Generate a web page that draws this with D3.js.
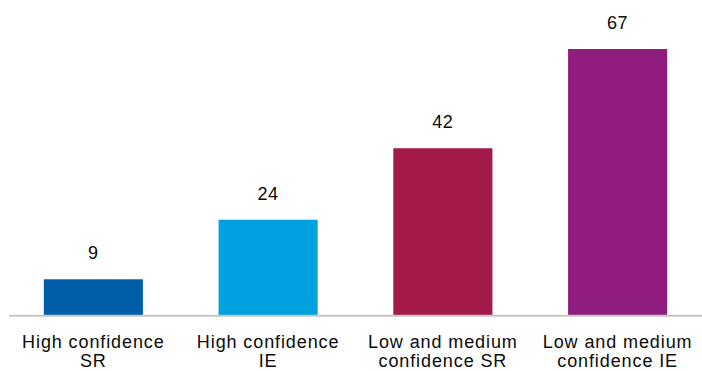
<!DOCTYPE html>
<html>
<head>
<meta charset="utf-8">
<script src="https://cdn.jsdelivr.net/npm/d3@7/dist/d3.min.js"></script>
<style>
  html, body { margin: 0; padding: 0; background: #fff; }
  svg { display: block; }
  text { font-family: "Liberation Sans", Arial, Helvetica, sans-serif; fill: #0a0a0a; }
</style>
</head>
<body>
<script>
// Categories (two-line labels) and their values
const categories = ["High confidence SR", "High confidence IE", "Low and medium confidence SR", "Low and medium confidence IE"];
const labelLines = [["High confidence", "SR"], ["High confidence", "IE"], ["Low and medium", "confidence SR"], ["Low and medium", "confidence IE"]];
const values = [9, 24, 42, 67];
const colors = ["#005EA8", "#00A1DF", "#A3194A", "#8E1D7F"];

const width = 702, height = 371;
const baseline = 315;

const svg = d3.select("body").append("svg")
  .attr("width", width)
  .attr("height", height);

const x = d3.scaleBand()
  .domain(categories)
  .range([6, 705])
  .paddingInner(0.433)
  .paddingOuter(0.2165);

const y = d3.scaleLinear()
  .domain([0, 67])
  .range([baseline, 49]);

// Bars
svg.append("g")
  .selectAll("rect")
  .data(categories)
  .join("rect")
  .attr("x", d => x(d))
  .attr("width", x.bandwidth())
  .attr("y", (d, i) => y(values[i]))
  .attr("height", (d, i) => y(0) - y(values[i]))
  .attr("fill", (d, i) => colors[i]);

// Baseline
svg.append("line")
  .attr("x1", 9).attr("x2", 702)
  .attr("y1", y(0) + 0.7).attr("y2", y(0) + 0.7)
  .attr("stroke", "#c6c6c6")
  .attr("stroke-width", 2);

// Value labels above bars
svg.append("g")
  .selectAll("text")
  .data(categories)
  .join("text")
  .attr("x", d => x(d) + x.bandwidth() / 2)
  .attr("y", (d, i) => y(values[i]) - 20)
  .attr("text-anchor", "middle")
  .style("font-size", "18px")
  .style("letter-spacing", "0.6px")
  .text((d, i) => values[i]);

// Category labels below the axis
const cat = svg.append("g")
  .selectAll("text")
  .data(categories)
  .join("text")
  .attr("x", d => x(d) + x.bandwidth() / 2)
  .attr("y", 348)
  .attr("text-anchor", "middle")
  .style("font-size", "18px")
  .style("letter-spacing", "0.9px");

cat.selectAll("tspan")
  .data((d, i) => labelLines[i])
  .join("tspan")
  .attr("x", function () { return d3.select(this.parentNode).attr("x"); })
  .attr("dy", (d, j) => j === 0 ? 0 : 19)
  .text(d => d);
</script>
</body>
</html>
